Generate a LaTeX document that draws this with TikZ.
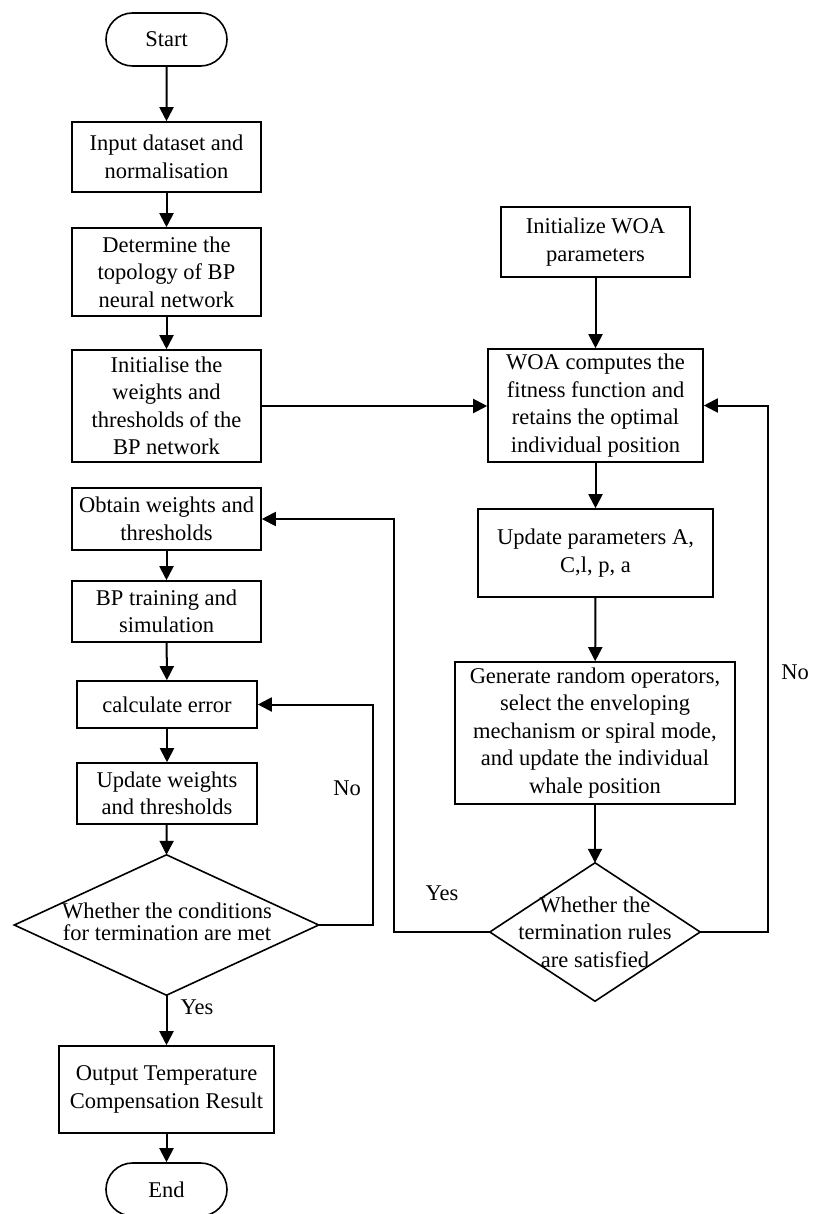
\documentclass[tikz,border=0pt]{standalone}
\usepackage{fontspec}
\setmainfont{Liberation Serif}
\usetikzlibrary{arrows.meta,shapes.misc}
\tikzset{
  box/.style={draw, line width=1.6pt, rectangle, align=center, inner sep=0pt,
    font=\fontsize{22.5}{27.5}\selectfont},
  term/.style={draw, line width=1.6pt, rounded rectangle, minimum width=121pt,
    minimum height=53pt, inner sep=0pt, font=\fontsize{22.5}{27.5}\selectfont},
  dia/.style={rectangle, inner sep=0pt, align=center},
  lbl/.style={font=\fontsize{22.5}{27.5}\selectfont, inner sep=0pt},
  conn/.style={line width=2pt, -{Triangle[length=14pt,width=14pt]}},
  line/.style={line width=2pt}
}
\begin{document}
\begin{tikzpicture}[x=1pt,y=-1pt]
\useasboundingbox (0,0) rectangle (813,1214);
\fill[white] (0,0) rectangle (813,1214);
% left column
\node[term] (start) at (166.5,39.5) {Start};
\node[box, minimum width=189pt, minimum height=70pt] (input) at (166.5,157) {Input dataset and\\normalisation};
\node[box, minimum width=189pt, minimum height=88pt] (topo) at (166.5,272) {Determine the\\topology of BP\\neural network};
\node[box, minimum width=189pt, minimum height=112pt] (initbp) at (166.5,406) {Initialise the\\weights and\\thresholds of the\\BP network};
\node[box, minimum width=189pt, minimum height=62pt] (obtain) at (166.5,519) {Obtain weights and\\thresholds};
\node[box, minimum width=189pt, minimum height=61pt] (train) at (166.5,611.5) {BP training and\\simulation};
\node[box, minimum width=180pt, minimum height=47pt] (calc) at (167,704.5) {calculate error};
\node[box, minimum width=180pt, minimum height=61pt] (upd) at (167,793.5) {Update weights\\and thresholds};
\node[dia, minimum width=304pt, minimum height=140pt] (cond) at (166.5,925) {};
\draw[line width=1.6pt] (cond.north) -- (cond.east) -- (cond.south) -- (cond.west) -- cycle;
\node[lbl, align=center, font=\fontsize{22.5}{21.5}\selectfont] (condtxt) at (167,922) {Whether the conditions\\for termination are met};
\node[box, minimum width=215pt, minimum height=87pt] (output) at (166.5,1089.5) {Output Temperature\\Compensation Result};
\node[term] (end) at (166.5,1189.5) {End};
% right column
\node[box, minimum width=189pt, minimum height=70pt] (initwoa) at (595.5,242) {Initialize WOA\\parameters};
\node[box, minimum width=215pt, minimum height=113pt] (woa) at (595.5,405.5) {WOA computes the\\fitness function and\\retains the optimal\\individual position};
\node[box, minimum width=235pt, minimum height=88pt] (updp) at (595.5,553) {Update parameters A,\\C,l, p, a};
\node[box, minimum width=280pt, minimum height=142pt] (gen) at (595,733) {Generate random operators,\\select the enveloping\\mechanism or spiral mode,\\and update the individual\\whale position};
\node[dia, minimum width=210pt, minimum height=138pt] (rule) at (595,932) {};
\draw[line width=1.6pt] (rule.north) -- (rule.east) -- (rule.south) -- (rule.west) -- cycle;
\node[lbl, align=center] (ruletxt) at (595,932) {Whether the\\termination rules\\are satisfied};
% coordinates for loops
\coordinate (c1) at (373,925);
\coordinate (c2) at (373,704.5);
\coordinate (r1) at (394,932);
\coordinate (r2) at (394,519);
\coordinate (s1) at (768,932);
\coordinate (s2) at (768,405.5);
% connectors
\draw[conn] (start) -- (input);
\draw[conn] (input) -- (topo);
\draw[conn] (topo) -- (initbp);
\draw[conn] (initbp.east) -- (initbp.east -| woa.west);
\draw[conn] (obtain) -- (train);
\draw[conn] (train) -- (calc);
\draw[conn] (calc) -- (upd);
\draw[conn] (upd) -- (cond.north);
\draw[conn] (cond.south) -- (output);
\draw[conn] (output) -- (end);
\draw[conn] (cond.east) -- (c1) -- (c2) -- (calc.east);
\draw[conn] (initwoa) -- (woa);
\draw[conn] (woa) -- (updp);
\draw[conn] (updp) -- (gen);
\draw[conn] (gen) -- (rule.north);
\draw[conn] (rule.west) -- (r1) -- (r2) -- (obtain.east);
\draw[conn] (rule.east) -- (s1) -- (s2) -- (woa.east);
% labels
\node[lbl] (nol) at (347,788) {No};
\node[lbl] (yesl) at (197,1007) {Yes};
\node[lbl] (yesr) at (442,893) {Yes};
\node[lbl] (nor) at (795,672) {No};
\end{tikzpicture}
\end{document}
